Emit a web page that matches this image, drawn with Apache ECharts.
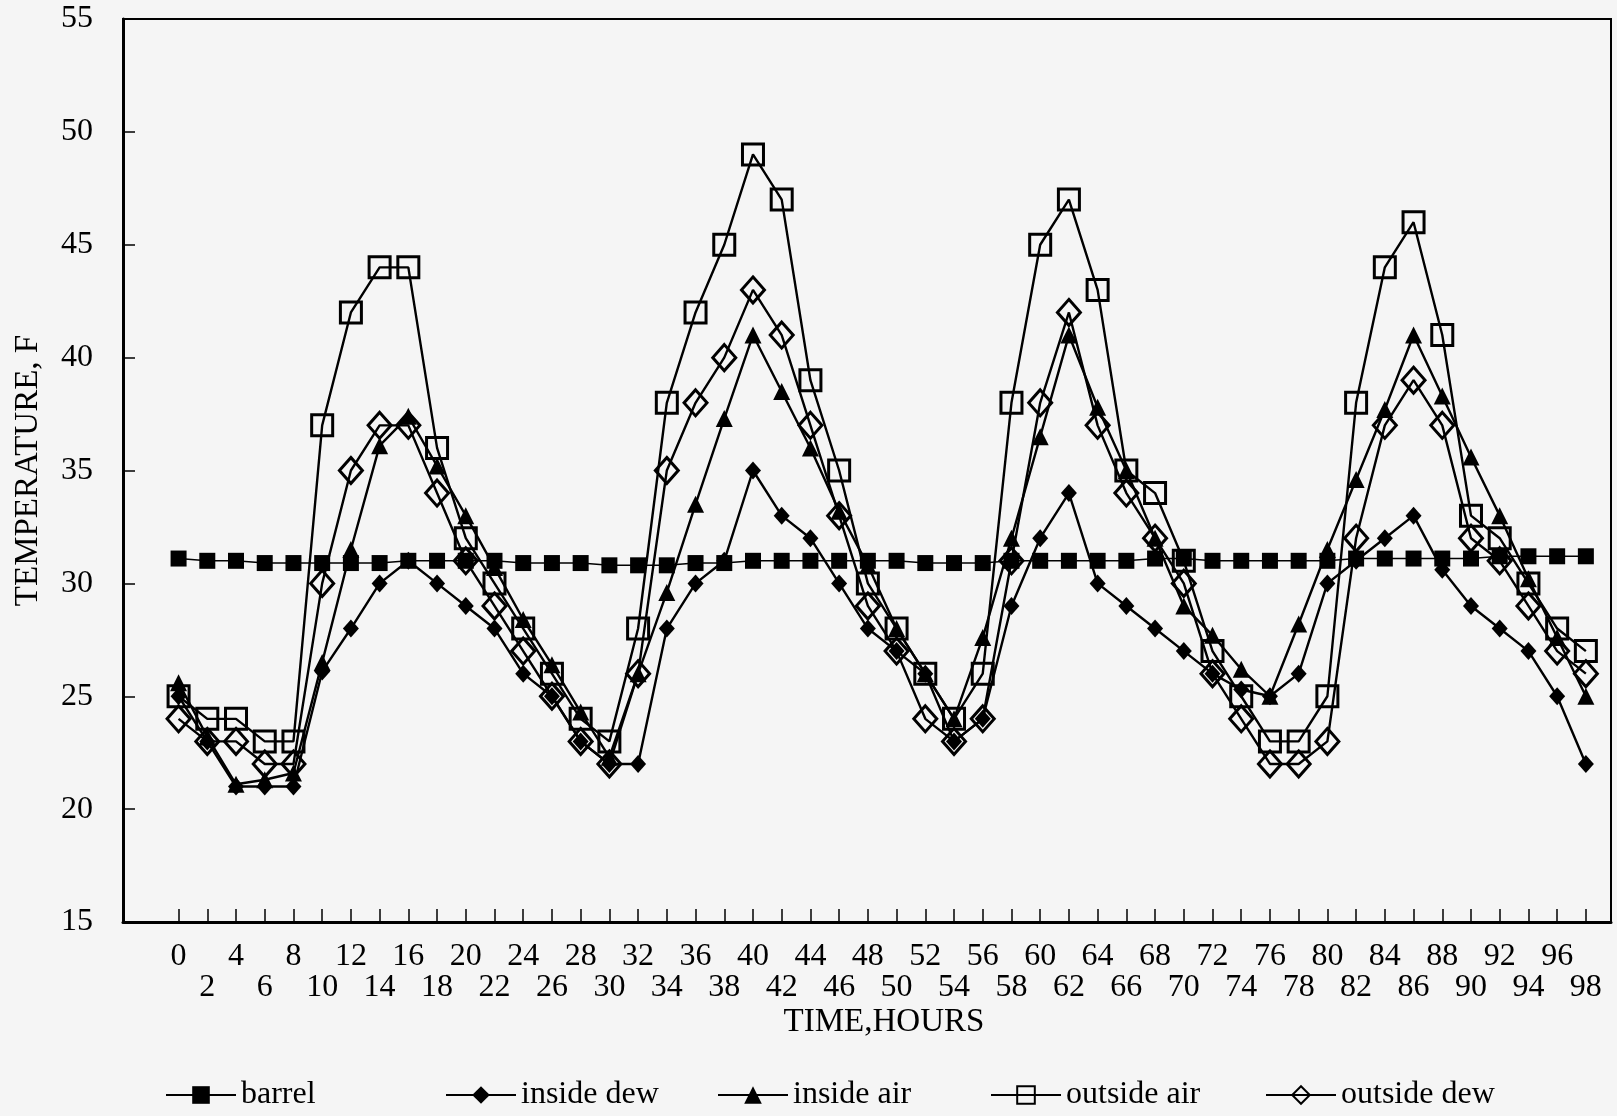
<!DOCTYPE html>
<html>
<head>
<meta charset="utf-8">
<title>Temperature, F vs time</title>
<script src="https://cdn.jsdelivr.net/npm/echarts@6/dist/echarts.min.js"></script>
<style>
html, body { margin: 0; padding: 0; background: #f5f5f5; }
#chart { width: 1617px; height: 1116px; }
</style>
</head>
<body>
<div id="chart"></div>
<script>
// time, hours
var hours = [0, 2, 4, 6, 8, 10, 12, 14, 16, 18, 20, 22, 24, 26, 28, 30, 32, 34, 36, 38,
    40, 42, 44, 46, 48, 50, 52, 54, 56, 58, 60, 62, 64, 66, 68, 70, 72, 74, 76, 78,
    80, 82, 84, 86, 88, 90, 92, 94, 96, 98];

// temperatures, F
var barrel = [31.1, 31.0, 31.0, 30.9, 30.9, 30.9, 30.9, 30.9, 31.0, 31.0, 31.0, 31.0, 30.9, 30.9, 30.9, 30.8, 30.8, 30.8, 30.9, 30.9,
    31.0, 31.0, 31.0, 31.0, 31.0, 31.0, 30.9, 30.9, 30.9, 31.0, 31.0, 31.0, 31.0, 31.0, 31.1, 31.1, 31.0, 31.0, 31.0, 31.0,
    31.0, 31.1, 31.1, 31.1, 31.1, 31.1, 31.2, 31.2, 31.2, 31.2];
var insideDew = [25, 23, 21, 21, 21, 26.1, 28, 30, 31, 30, 29, 28, 26, 25, 23, 22, 22, 28, 30, 31,
    35, 33, 32, 30, 28, 27, 26, 23, 24, 29, 32, 34, 30, 29, 28, 27, 26, 25.3, 25, 26,
    30, 31, 32, 33, 30.6, 29, 28, 27, 25, 22];
var insideAir = [25.6, 23.2, 21.1, 21.3, 21.6, 26.5, 31.5, 36.1, 37.4, 35.2, 33, 30.7, 28.4, 26.4, 24.3, 22.3, 26, 29.6, 33.5, 37.3,
    41, 38.5, 36, 33.2, 30.8, 28, 26, 24, 27.6, 32, 36.5, 41, 37.8, 35, 32, 29, 27.7, 26.2, 25, 28.2,
    31.5, 34.6, 37.7, 41, 38.3, 35.6, 33, 30.2, 27.6, 25];
var outsideAir = [25, 24, 24, 23, 23, 37, 42, 44, 44, 36, 32, 30, 28, 26, 24, 23, 28, 38, 42, 45,
    49, 47, 39, 35, 30, 28, 26, 24, 26, 38, 45, 47, 43, 35, 34, 31, 27, 25, 23, 23,
    25, 38, 44, 46, 41, 33, 32, 30, 28, 27];
var outsideDew = [24, 23, 23, 22, 22, 30, 35, 37, 37, 34, 31, 29, 27, 25, 23, 22, 26, 35, 38, 40,
    43, 41, 37, 33, 29, 27, 24, 23, 24, 31, 38, 42, 37, 34, 32, 30, 26, 24, 22, 22,
    23, 32, 37, 39, 37, 32, 31, 29, 27, 26];

var seriesNames = ['barrel', 'inside dew', 'inside air', 'outside air', 'outside dew'];

var FONT = 'Liberation Serif';
var chart = echarts.init(document.getElementById('chart'));

// tick labels are staggered on two rows: 0,4,8.. on top, 2,6,10.. below
var topRow = hours.filter(function (h) { return h % 4 === 0; });
var lowRow = hours.filter(function (h) { return h % 4 !== 0; });

function pairs(arr) {
    var out = [];
    for (var i = 0; i < hours.length; i++) {
        out.push([hours[i], arr[i]]);
    }
    return out;
}

//一条折线的设置
function lineSet(name, arr, symbol, size, hollow, lw) {
    return {
        name: name,
        type: 'line',
        data: pairs(arr),
        symbol: symbol,
        symbolSize: size,
        showAllSymbol: true,
        lineStyle: { color: '#000', width: lw },
        itemStyle: hollow ? { color: 'rgba(0,0,0,0)', borderColor: '#000', borderWidth: 3 }
                          : { color: '#000', borderWidth: 0 },
        emphasis: { disabled: true },
        z: 2
    };
}

//x轴设置
function xAxisSet(labels, margin, withLine) {
    return {
        type: 'value',
        min: -3.87,
        max: 99.75,
        position: 'bottom',
        name: withLine ? 'TIME,HOURS' : '',
        nameLocation: 'middle',
        nameGap: 84,
        nameTextStyle: { fontFamily: FONT, fontSize: 33, color: '#000', padding: [0, 0, 0, 34] },
        axisLine: { show: withLine, onZero: false, lineStyle: { color: '#000', width: 3 } },
        axisTick: { show: withLine, inside: true, length: 13, customValues: hours, lineStyle: { color: '#000', width: 1.5 } },
        axisLabel: {
            customValues: labels,
            showMinLabel: true,
            showMaxLabel: true,
            fontFamily: FONT,
            fontSize: 32,
            color: '#000',
            margin: margin
        },
        splitLine: { show: false }
    };
}

// legend entries, one per item so they sit where the original put them
var legendLeft = [160, 440, 712, 985, 1260];
var legends = [];
for (var k = 0; k < seriesNames.length; k++) {
    legends.push({
        data: [seriesNames[k]],
        left: legendLeft[k],
        top: 1074,
        itemWidth: 70,
        itemHeight: 22,
        selectedMode: false,
        textStyle: { fontFamily: FONT, fontSize: 32, color: '#000' }
    });
}

var option = {
    backgroundColor: '#f5f5f5',
    animation: false,
    grid: {
        left: 123,
        top: 19,
        right: 6,
        bottom: 194,
        show: true,
        borderColor: '#000',
        borderWidth: 2
    },
    legend: legends,
    xAxis: [
        xAxisSet(topRow, 19, true),
        xAxisSet(lowRow, 50, false)
    ],
    yAxis: {
        type: 'value',
        min: 15,
        max: 55,
        interval: 5,
        name: 'TEMPERATURE, F',
        nameLocation: 'middle',
        nameGap: 78,
        nameTextStyle: { fontFamily: FONT, fontSize: 33, color: '#000' },
        axisLine: { show: true, onZero: false, lineStyle: { color: '#000', width: 3 } },
        axisTick: { show: true, inside: true, length: 12, lineStyle: { color: '#000', width: 1.5 } },
        axisLabel: { fontFamily: FONT, fontSize: 32, color: '#000', margin: 30 },
        splitLine: { show: false }
    },
    series: [
        lineSet('barrel', barrel, 'rect', 16, false, 1.5),
        lineSet('inside dew', insideDew, 'diamond', [16, 18], false, 2.4),
        lineSet('inside air', insideAir, 'triangle', 17, false, 2.4),
        lineSet('outside air', outsideAir, 'rect', 21, true, 2.4),
        lineSet('outside dew', outsideDew, 'diamond', [23, 26], true, 2.4)
    ]
};

chart.setOption(option);
</script>
</body>
</html>
